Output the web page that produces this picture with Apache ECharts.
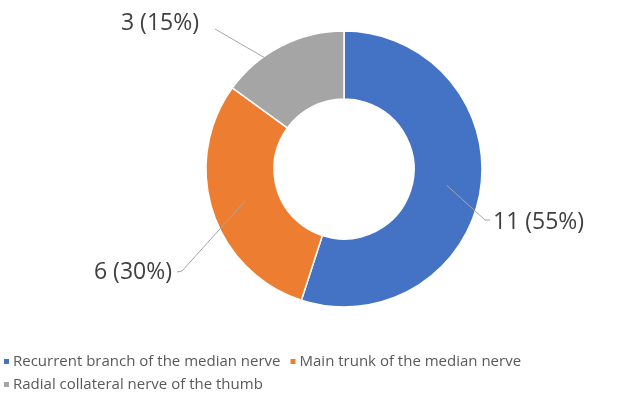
<!DOCTYPE html>
<html>
<head>
<meta charset="utf-8">
<script src="https://cdn.jsdelivr.net/npm/echarts@6/dist/echarts.min.js"></script>
<style>
  html, body { margin: 0; padding: 0; background: #fff; }
  #main { width: 632px; height: 401px; }
</style>
</head>
<body>
<div id="main"></div>
<script>
// 数据
const categories = [
  'Recurrent branch of the median nerve',
  'Main trunk of the median nerve',
  'Radial collateral nerve of the thumb'
]
const counts = [11, 6, 3]
const percents = [55, 30, 15]
const colors = ['#4472C4', '#ED7D31', '#A5A5A5']

// 标签位置 (x, y, 对齐) 和引导线拐点
const labelSpots = [
  { x: 493, y: 222, align: 'left', elbow: [485, 220], end: [490, 220] },
  { x: 172, y: 272, align: 'right', elbow: [182, 271], end: [177, 272] },
  { x: 199, y: 23, align: 'right', elbow: [215, 29], end: [215, 29] }
]

const center = ['344', '169']
const pieData = categories.map((name, i) => ({ name: name, value: counts[i] }))

const chart = echarts.init(document.getElementById('main'), null, { renderer: 'canvas' })
chart.setOption({
  animation: false,
  color: colors,
  legend: {
    data: categories,
    left: 2,
    top: 354,
    padding: 0,
    width: 630,
    itemWidth: 7,
    itemHeight: 7,
    itemGap: 8,
    icon: 'rect',
    textStyle: {
      fontFamily: 'Open Sans',
      fontSize: 15,
      color: '#595959',
      padding: [0, 2, 0, -2]
    }
  },
  series: [
    {
      type: 'pie',
      center: center,
      radius: [70, 138],
      startAngle: 90,
      clockwise: true,
      silent: true,
      label: { show: false },
      labelLine: { show: false },
      itemStyle: { borderColor: '#fff', borderWidth: 1.5 },
      data: pieData
    },
    {
      // 仅用于标签和引导线的透明辅助饼
      type: 'pie',
      center: center,
      radius: [70, 104],
      startAngle: 90,
      clockwise: true,
      silent: true,
      z: 3,
      itemStyle: { color: 'transparent' },
      emphasis: { disabled: true },
      label: {
        show: true,
        position: 'outside',
        fontFamily: 'Open Sans',
        fontSize: 23,
        color: '#404040',
        formatter: p => counts[p.dataIndex] + ' (' + percents[p.dataIndex] + '%)'
      },
      labelLine: {
        show: true,
        length: 30,
        length2: 5,
        lineStyle: { color: '#A6A6A6', width: 1 }
      },
      labelLayout: function (params) {
        const s = labelSpots[params.dataIndex]
        const start = params.labelLinePoints ? params.labelLinePoints[0] : s.elbow
        return {
          x: s.x,
          y: s.y,
          align: s.align,
          verticalAlign: 'middle',
          labelLinePoints: [start, s.elbow, s.end]
        }
      },
      data: pieData
    }
  ]
})
</script>
</body>
</html>
